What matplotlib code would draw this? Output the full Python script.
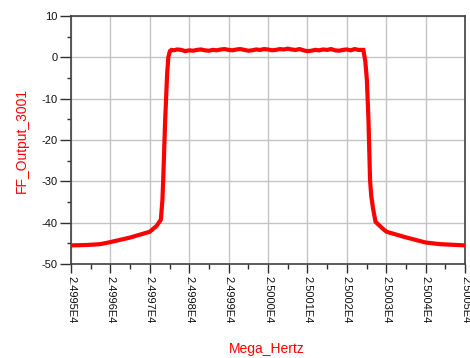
import matplotlib
matplotlib.use("Agg")
import matplotlib.pyplot as plt
from matplotlib.ticker import MultipleLocator

plt.rcParams['font.family'] = ['Liberation Sans', 'DejaVu Sans']

# Frequency (MHz) and output level (dB)
skirt_left_f = [24995.0, 24995.4, 24995.74, 24996.0, 24996.5, 24997.0, 24997.17, 24997.28, 24997.32, 24997.34, 24997.39, 24997.44, 24997.47, 24997.51]
skirt_left_db = [-45.5, -45.4, -45.2, -44.7, -43.6, -42.2, -40.8, -39.3, -34.5, -29.7, -15.2, -4.0, 0.0, 1.5]

top_f = [24997.55, 24997.6, 24997.7, 24997.8, 24997.9, 24998.0, 24998.1, 24998.2, 24998.3, 24998.4,
         24998.5, 24998.6, 24998.7, 24998.8, 24998.9, 24999.0, 24999.1, 24999.2, 24999.3, 24999.4,
         24999.5, 24999.6, 24999.7, 24999.8, 24999.9, 25000.0, 25000.1, 25000.2, 25000.3, 25000.4,
         25000.5, 25000.6, 25000.7, 25000.8, 25000.9, 25001.0, 25001.1, 25001.2, 25001.3, 25001.4,
         25001.5, 25001.6, 25001.7, 25001.8, 25001.9, 25002.0, 25002.1, 25002.2, 25002.3, 25002.42]
top_db = [1.8, 1.7, 1.9, 1.8, 1.5, 1.7, 1.6, 1.8, 1.9, 1.7,
          1.6, 1.8, 1.7, 1.9, 2.0, 1.8, 1.7, 1.9, 2.0, 1.8,
          1.6, 1.7, 1.9, 1.8, 2.0, 1.9, 1.7, 1.8, 2.0, 1.9,
          2.1, 1.9, 1.8, 2.0, 1.7, 1.5, 1.6, 1.8, 1.7, 1.9,
          1.8, 2.0, 1.7, 1.6, 1.8, 1.9, 1.7, 2.0, 1.8, 1.8]

skirt_right_f = [25002.47, 25002.51, 25002.55, 25002.59, 25002.62, 25002.67, 25002.73, 25002.93, 25003.01, 25003.44, 25004.0, 25004.37, 25005.0]
skirt_right_db = [-1.0, -5.5, -15.2, -29.7, -33.5, -36.8, -39.8, -41.6, -42.2, -43.4, -44.8, -45.2, -45.5]

x_ticks = [24995, 24996, 24997, 24998, 24999, 25000, 25001, 25002, 25003, 25004, 25005]
x_tick_labels = ['2.4995E4', '2.4996E4', '2.4997E4', '2.4998E4', '2.4999E4', '2.5000E4',
                 '2.5001E4', '2.5002E4', '2.5003E4', '2.5004E4', '2.5005E4']
y_ticks = [10, 0, -10, -20, -30, -40, -50]
y_tick_labels = ['10', '0', '-10', '-20', '-30', '-40', '-50']

freq = skirt_left_f + top_f + skirt_right_f
level = skirt_left_db + top_db + skirt_right_db

W, H = 470, 358
fig = plt.figure(figsize=(W / 100, H / 100), dpi=100)
ax = fig.add_axes([71 / W, 1 - 264 / H, 394 / W, 248 / H])

ax.plot(freq, level, color='#ff0000', lw=3.0, solid_joinstyle='miter', solid_capstyle='butt', zorder=3)

ax.set_xlim(24995, 25005)
ax.set_ylim(-50, 10)
ax.set_xticks(x_ticks)
ax.set_xticklabels(x_tick_labels, rotation=270, va='top', ha='center', fontsize=8, color='#111111')
ax.set_yticks(y_ticks)
ax.set_yticklabels(y_tick_labels, fontsize=8, color='#111111')
ax.xaxis.set_minor_locator(MultipleLocator(0.5))
ax.yaxis.set_minor_locator(MultipleLocator(5))

ax.grid(True, which='major', color='#c4c4c4', lw=1.0, zorder=0)
for s in ax.spines.values():
    s.set_color('#404040')
    s.set_linewidth(1.2)

ax.tick_params(axis='x', which='major', direction='out', length=6.5, width=1, color='#303030', pad=2.5)
ax.tick_params(axis='x', which='minor', direction='out', length=3.6, width=1, color='#303030')
ax.tick_params(axis='y', which='major', direction='out', length=8, width=1, color='#303030', pad=1.5)
ax.tick_params(axis='y', which='minor', direction='out', length=3, width=1, color='#303030')

fig.text(22 / W, 1 - 140.5 / H, 'FF_Output_3001', color='#ff0000', fontsize=10,
         rotation=90, ha='center', va='center')
fig.text(266.5 / W, 1 - 349 / H, 'Mega_Hertz', color='#ff0000', fontsize=10,
         ha='center', va='center')

fig.savefig('out.png', dpi=100)
